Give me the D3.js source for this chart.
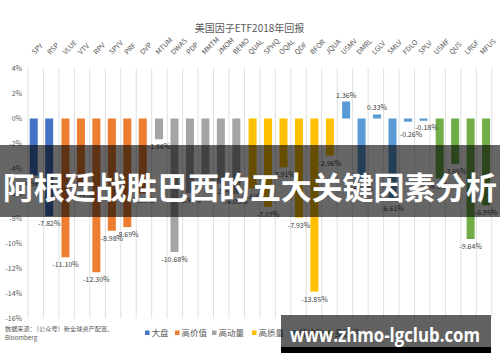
<!DOCTYPE html>
<html><head><meta charset="utf-8">
<script src="https://cdn.jsdelivr.net/npm/d3@7"></script>
<style>body{margin:0;background:#fff}svg{display:block}</style>
</head><body>
<script>
const categories = ["SPY","RSP","VLUE","VTV","RPV","SPYV","PRF","DVP","MTUM","DWAS","PDP","MMTM","JMOM","BEMO","QUAL","SPHQ","OQAL","QDF","BFOR","JQUA","USMV","DMRL","LGLV","SMLV","FDLO","SPLV","USMF","QUS","LRGF","MFUS"];
const groups = ["大盘","高价值","高动量","高质量","低波动","多因子"];
const groupColors = ["#4472C4","#ED7D31","#A5A5A5","#FFC000","#5B9BD5","#70AD47"];
const groupOf = [0,0,1,1,1,1,1,1,2,2,2,2,2,2,3,3,3,3,3,3,4,4,4,4,4,4,5,5,5,5];
const values = [-4.56,-7.82,-11.10,-5.44,-12.30,-8.98,-8.69,-5.99,-1.66,-10.68,-5.96,-4.50,-5.20,-6.05,-5.60,-7.07,-3.91,-7.93,-13.85,-2.96,1.36,-5.00,0.33,-6.61,-0.26,-0.18,-4.80,-3.65,-9.64,-6.95];
const yTicks = [4,2,0,-2,-4,-6,-8,-10,-12,-14,-16];
const title = "美国因子ETF2018年回报";
const sourceLines = ["数据来源：（公众号）新全球资产配置、","Bloomberg"];
const bannerText = "阿根廷战胜巴西的五大关键因素分析";
const watermark = "www.zhmo-lgclub.com";

const W = 500, H = 362;
const svg = d3.select("body").append("svg").attr("width", W).attr("height", H);
const font = "'Microsoft YaHei','Noto Sans CJK SC','Noto Sans',sans-serif";
const txt = "#595959";

const x = d3.scaleBand().domain(categories).range([28, 491.8]).paddingInner(0).paddingOuter(0);
const y = d3.scaleLinear().domain([-16, 4]).range([318.5, 68.5]);

// vertical gridlines
const bounds = categories.map(c => x(c)).concat([x.range()[1]]);
svg.append("g").selectAll("line").data(bounds).join("line")
  .attr("x1", d => d).attr("x2", d => d)
  .attr("y1", y(4)).attr("y2", y(-16))
  .attr("stroke", "#e0e0e0").attr("stroke-width", 1);

// y axis labels
const yAxis = d3.axisLeft(y).tickValues(yTicks).tickSize(0).tickPadding(0).tickFormat(d => d + "%");
const ya = svg.append("g").attr("transform", "translate(22,0)").call(yAxis);
ya.select(".domain").remove();
ya.selectAll("text").attr("font-family", font).attr("font-size", 7).attr("fill", txt);

// bars
const bw = 8;
const cx = (d, i) => x(d) + x.bandwidth() / 2 + (groupOf[i] - 2.5) * 0.8;
svg.append("g").selectAll("rect").data(categories).join("rect")
  .attr("x", (d, i) => cx(d, i) - bw / 2)
  .attr("width", bw)
  .attr("y", (d, i) => y(Math.max(0, values[i])))
  .attr("height", (d, i) => Math.abs(y(values[i]) - y(0)))
  .attr("fill", (d, i) => groupColors[groupOf[i]]);

// data labels (small-value labels nudged apart as in the source chart)
const nudge = { FDLO: [3, 5], SPLV: [3, -1] };
svg.append("g").selectAll("text").data(categories).join("text")
  .attr("x", (d, i) => cx(d, i) + (nudge[d] ? nudge[d][0] : 0))
  .attr("y", (d, i) => (values[i] >= 0 ? y(values[i]) - 4 : y(values[i]) + 10) + (nudge[d] ? nudge[d][1] : 0))
  .attr("text-anchor", "middle")
  .attr("font-family", font).attr("font-size", 7).attr("fill", "#404040")
  .text((d, i) => values[i].toFixed(2) + "%");

// category labels
svg.append("g").selectAll("text").data(categories).join("text")
  .attr("transform", (d, i) => `translate(${x(d) + x.bandwidth() / 2 - 1},55) rotate(-45)`)
  .attr("font-family", font).attr("font-size", 7).attr("fill", txt)
  .text(d => d);

// title
svg.append("text").attr("x", 249.5).attr("y", 32).attr("text-anchor", "middle")
  .attr("font-family", font).attr("font-size", 10).attr("fill", txt).text(title);

// source
svg.append("g").selectAll("text").data(sourceLines).join("text")
  .attr("x", 5).attr("y", (d, i) => 331 + i * 9)
  .attr("font-family", font).attr("font-size", 6.2).attr("fill", txt).text(d => d);

// legend
const legX = [145, 175, 212, 252, 292, 328];
const leg = svg.append("g").selectAll("g").data(groups).join("g")
  .attr("transform", (d, i) => `translate(${legX[i]},333)`);
leg.append("rect").attr("x", 0).attr("y", -2.5).attr("width", 4.5).attr("height", 4.5)
  .attr("fill", (d, i) => groupColors[i]);
leg.append("text").attr("x", 6.5).attr("y", 3.2).attr("font-family", font).attr("font-size", 8.5)
  .attr("fill", txt).text(d => d);

// overlay banner
svg.append("rect").attr("x", 0).attr("y", 145).attr("width", W).attr("height", 72)
  .attr("fill", "rgba(0,0,0,0.6)");
svg.append("text").attr("x", 250).attr("y", 199).attr("text-anchor", "middle")
  .attr("textLength", 494).attr("lengthAdjust", "spacingAndGlyphs")
  .attr("font-family", "'Noto Sans CJK SC',sans-serif").attr("font-weight", "bold")
  .attr("font-size", 31).attr("fill", "#fff").text(bannerText);

// watermark
svg.append("rect").attr("x", 281).attr("y", 315).attr("width", 210).attr("height", 32)
  .attr("fill", "rgba(0,0,0,0.62)");
svg.append("rect").attr("x", 281).attr("y", 347).attr("width", 210).attr("height", 6)
  .attr("fill", "#000");
svg.append("text").attr("x", 290).attr("y", 342)
  .attr("textLength", 190).attr("lengthAdjust", "spacingAndGlyphs")
  .attr("font-family", "'Open Sans','DejaVu Sans',sans-serif").attr("font-weight", "bold")
  .attr("font-size", 20).attr("fill", "#fff").text(watermark);
</script>
</body></html>
